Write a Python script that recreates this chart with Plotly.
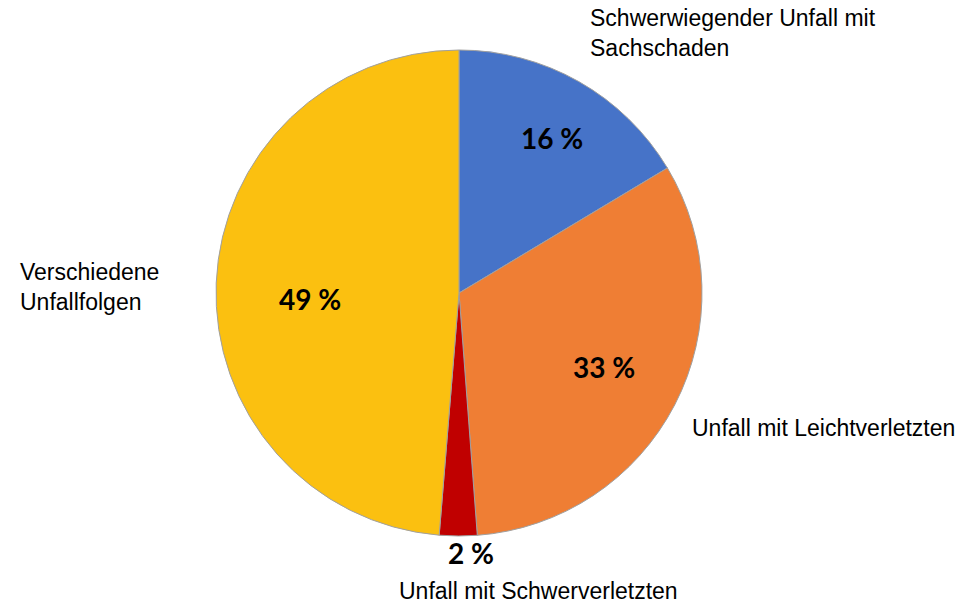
import plotly.graph_objects as go

categories = ["Schwerwiegender Unfall mit Sachschaden", "Unfall mit Leichtverletzten",
              "Unfall mit Schwerverletzten", "Verschiedene Unfallfolgen"]
values = [16.4, 32.4, 2.5, 48.7]
pct_labels = ["16 %", "33 %", "2 %", "49 %"]
colors = ["#4673C8", "#EF7E34", "#C00000", "#FBC010"]

W, H = 969, 604
cx, cy, R = 459, 293, 243

fig = go.Figure(go.Pie(
    labels=categories, values=values, sort=False, direction="clockwise", rotation=0,
    marker=dict(colors=colors, line=dict(color="#A0A0A0", width=1)),
    textinfo="none", hoverinfo="label+percent", showlegend=False,
    domain=dict(x=[(cx - R) / W, (cx + R) / W], y=[(H - cy - R) / H, (H - cy + R) / H]),
))

def px(x, y):
    return x / W, 1 - y / H

ann = []
pct_pos = [(552, 138), (604, 367), (471, 553), (310, 299)]
for t, (x, y) in zip(pct_labels, pct_pos):
    ax, ay = px(x, y)
    ann.append(dict(x=ax, y=ay, xref="paper", yref="paper", text="<b>" + t + "</b>", showarrow=False,
                    xanchor="center", yanchor="middle",
                    font=dict(family="Lato, Open Sans, sans-serif", size=28, color="#000000")))

cat_texts = ["Schwerwiegender Unfall mit<br>Sachschaden", "Unfall mit Leichtverletzten",
             "Unfall mit Schwerverletzten", "Verschiedene<br>Unfallfolgen"]
cat_pos = [(588, 33, "left"), (690, 428, "left"), (538, 591, "center"), (18, 287, "left")]
for t, (x, y, al) in zip(cat_texts, cat_pos):
    ax, ay = px(x, y)
    ann.append(dict(x=ax, y=ay, xref="paper", yref="paper", text=t, showarrow=False,
                    xanchor=al, align=al, yanchor="middle",
                    font=dict(family="Liberation Sans, Arial, sans-serif", size=23, color="#000000")))

fig.update_layout(width=W, height=H, margin=dict(l=0, r=0, t=0, b=0),
                  paper_bgcolor="white", plot_bgcolor="white", annotations=ann)
fig.write_html("out.html", config={"displayModeBar": False},
               post_script="document.body.style.margin='0';document.body.style.overflow='hidden';")
